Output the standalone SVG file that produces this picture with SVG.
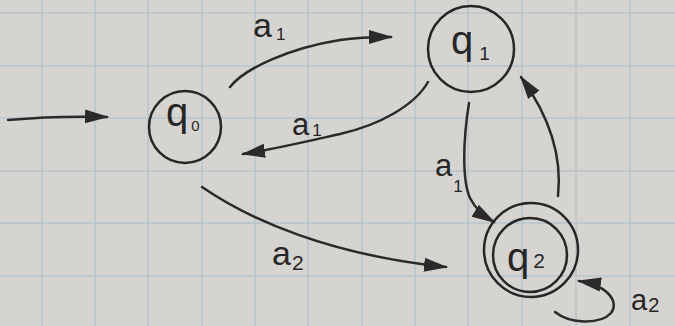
<svg xmlns="http://www.w3.org/2000/svg" width="675" height="326" viewBox="0 0 675 326">
<defs>
<style>
.grid line{stroke:#b7c4cd;stroke-width:1.5}
.node circle{fill:none;stroke:#262626;stroke-width:2.5}
.edge{fill:none;stroke:#2a2a2a;stroke-width:2.5;stroke-linecap:round;marker-end:url(#ah)}
text{font-family:"Liberation Sans",Arial,sans-serif;fill:#262626}
.lbl{font-size:34px}
.sub{font-size:17px}
.nm{font-size:40px}
</style>
<marker id="ah" markerUnits="userSpaceOnUse" markerWidth="24" markerHeight="16" viewBox="0 0 24 16" refX="22" refY="8" orient="auto">
<path d="M0,1 L24,8 L0,15 z" fill="#2a2a2a"/>
</marker>
</defs>
<rect width="675" height="326" fill="#d5d4d0"/>
<g class="grid">
<line x1="42" y1="0" x2="42" y2="326"/><line x1="95" y1="0" x2="95" y2="326"/><line x1="148" y1="0" x2="148" y2="326"/><line x1="202" y1="0" x2="202" y2="326"/><line x1="255" y1="0" x2="255" y2="326"/><line x1="308" y1="0" x2="308" y2="326"/><line x1="362" y1="0" x2="362" y2="326"/><line x1="415" y1="0" x2="415" y2="326"/><line x1="468" y1="0" x2="468" y2="326"/><line x1="522" y1="0" x2="522" y2="326"/><line x1="576" y1="0" x2="576" y2="326"/><line x1="630" y1="0" x2="630" y2="326"/>
<line x1="0" y1="13" x2="675" y2="13"/><line x1="0" y1="66" x2="675" y2="66"/><line x1="0" y1="118" x2="675" y2="118"/><line x1="0" y1="171" x2="675" y2="171"/><line x1="0" y1="223" x2="675" y2="223"/><line x1="0" y1="276" x2="675" y2="276"/>
</g>
<g id="connectors">
<path class="edge" d="M8,120 C40,117 70,116 107,117"/>
<path class="edge" d="M230,87 C245,68 290,48 340,40 C360,37 375,37 391,37"/>
<path class="edge" d="M428,82 C415,105 380,125 340,134 C300,143 270,150 243,154"/>
<path class="edge" d="M469,103 C463,140 462,180 470,198 C476,210 484,216 494,222"/>
<path class="edge" d="M558,196 C562,160 552,120 521,77"/>
<path class="edge" d="M202,187 C250,220 330,255 446,267"/>
<path class="edge" d="M555,312 C570,324 600,325 611,313 C619,303 610,286 579,281"/>
<text class="lbl" x="253" y="37">a<tspan class="sub" dx="4" dy="3">1</tspan></text>
<text class="lbl" x="292" y="135" style="font-size:31px">a<tspan class="sub" dx="3" dy="1">1</tspan></text>
<text class="lbl" x="435" y="176" style="font-size:31px">a<tspan class="sub" dx="1" dy="16">1</tspan></text>
<text class="lbl" x="272" y="265">a<tspan style="font-size:21px" dx="1" dy="5">2</tspan></text>
<text class="lbl" x="631" y="310" style="font-size:29px">a<tspan style="font-size:20px" dx="1" dy="2">2</tspan></text>
</g>
<g id="q0" class="node">
<circle cx="185" cy="127" r="36"/>
<text class="nm" x="166" y="126">q<tspan style="font-size:15px" dx="3" dy="5">0</tspan></text>
</g>
<g id="q1" class="node">
<circle cx="471" cy="49" r="43"/>
<text class="nm" x="451" y="54">q<tspan style="font-size:19px" dx="6" dy="6">1</tspan></text>
</g>
<g id="q2" class="node">
<circle cx="531" cy="250" r="47"/>
<circle cx="530" cy="255" r="37"/>
<text class="nm" x="507" y="271">q<tspan style="font-size:21px" dx="4" dy="-3">2</tspan></text>
</g>
</svg>
